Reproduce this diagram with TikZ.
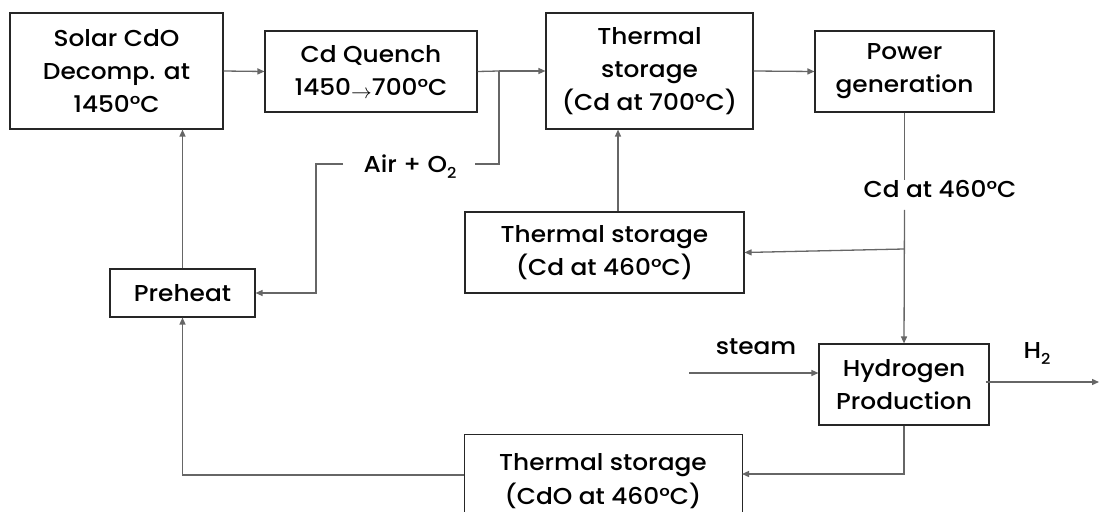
\documentclass[tikz,border=0pt]{standalone}
\usepackage{fontspec}
\setmainfont{Poppins}[UprightFont={* Medium},FakeStretch=1.08]
\usetikzlibrary{arrows.meta}
\newcommand{\thinarrow}{\raisebox{-3pt}{\fontsize{20}{20}\selectfont$\rightarrow$}}
\newcommand{\lowtwo}{\raisebox{-6pt}{\fontsize{15}{15}\selectfont 2}}
\begin{document}
\begin{tikzpicture}[x=1pt,y=-1pt,
  box/.style={draw=black!85,line width=1.1pt,align=center,inner sep=0pt,font=\fontsize{23}{33}\selectfont},
  conn/.style={draw=black!60,line width=1.3pt},
  arr/.style={conn,-{Triangle[length=7pt,width=6pt]}},
  lbl/.style={font=\fontsize{23}{33}\selectfont,inner sep=0pt}]
\useasboundingbox (0,0) rectangle (1099,511);
\begin{scope}
\clip (0,0) rectangle (1099,511);
\node[box,minimum width=213pt,minimum height=116pt] (solar) at (116.5,71) {Solar CdO\\Decomp. at\\1450°C};
\node[box,minimum width=212pt,minimum height=81pt] (quench) at (371,71.5) {Cd Quench\\1450\thinarrow700°C};
\node[box,minimum width=207pt,minimum height=116pt] (ts7) at (649.5,71) {Thermal\\storage\\(Cd at 700°C)};
\node[box,minimum width=179pt,minimum height=81pt] (power) at (904.5,71.5) {Power\\generation};
\node[box,minimum width=279pt,minimum height=81pt] (ts4) at (604.5,252.5) {Thermal storage\\(Cd at 460°C)};
\node[box,minimum width=145pt,minimum height=48pt] (pre) at (182.5,293) {Preheat};
\node[box,minimum width=170pt,minimum height=81pt] (hyd) at (904,384.5) {Hydrogen\\Production};
\node[box,minimum width=278pt,minimum height=130pt,anchor=north west] (tso) at (464,434) {};
\node[lbl] at (603,465) {Thermal storage};
\node[lbl] at (603,496) {(CdO at 460°C)};
\end{scope}
% labels
\node[lbl,anchor=base] (air) at (410,172) {Air + O\lowtwo};
\node[lbl] (cd460) at (940,189) {Cd at 460°C};
\node[lbl] (steam) at (756,347) {steam};
\node[lbl,anchor=base] (h2) at (1037,358) {H\lowtwo};
\coordinate (j1) at (499,71);
\coordinate (steamin) at (689,373);
\coordinate (h2out) at (1099,382);
\coordinate (split) at (904,249);
\coordinate (airR) at (475,164);
\coordinate (airL) at (343,164);
% connectors
\draw[arr] (solar.east) -- (quench.west);
\draw[conn] (quench.east) -- (j1);
\draw[arr] (j1) -- (ts7.west);
\draw[conn] (airR) -| (j1);
\draw[arr] (airL) -- (316,164) |- (pre.east);
\draw[arr] (ts7.east) -- (power.west);
\draw[conn] (power.south) -- (cd460.north -| power.south);
\draw[arr] (cd460.south -| power.south) ++(0,12) -- (hyd.north);
\draw[arr] (split) -- (ts4.east);
\draw[arr] (ts4.north -| 618,0) -- (ts7.south -| 618,0);
\draw[arr] (pre.north) -- (pre.north |- solar.south);
\draw[arr] (steamin) -- (hyd.west |- steamin);
\draw[arr] (hyd.east |- h2out) ++(-4,0) -- (h2out);
\draw[arr] (hyd.south) |- (742,474);
\draw[arr] (464,475) -| (pre.south);
\end{tikzpicture}
\end{document}
